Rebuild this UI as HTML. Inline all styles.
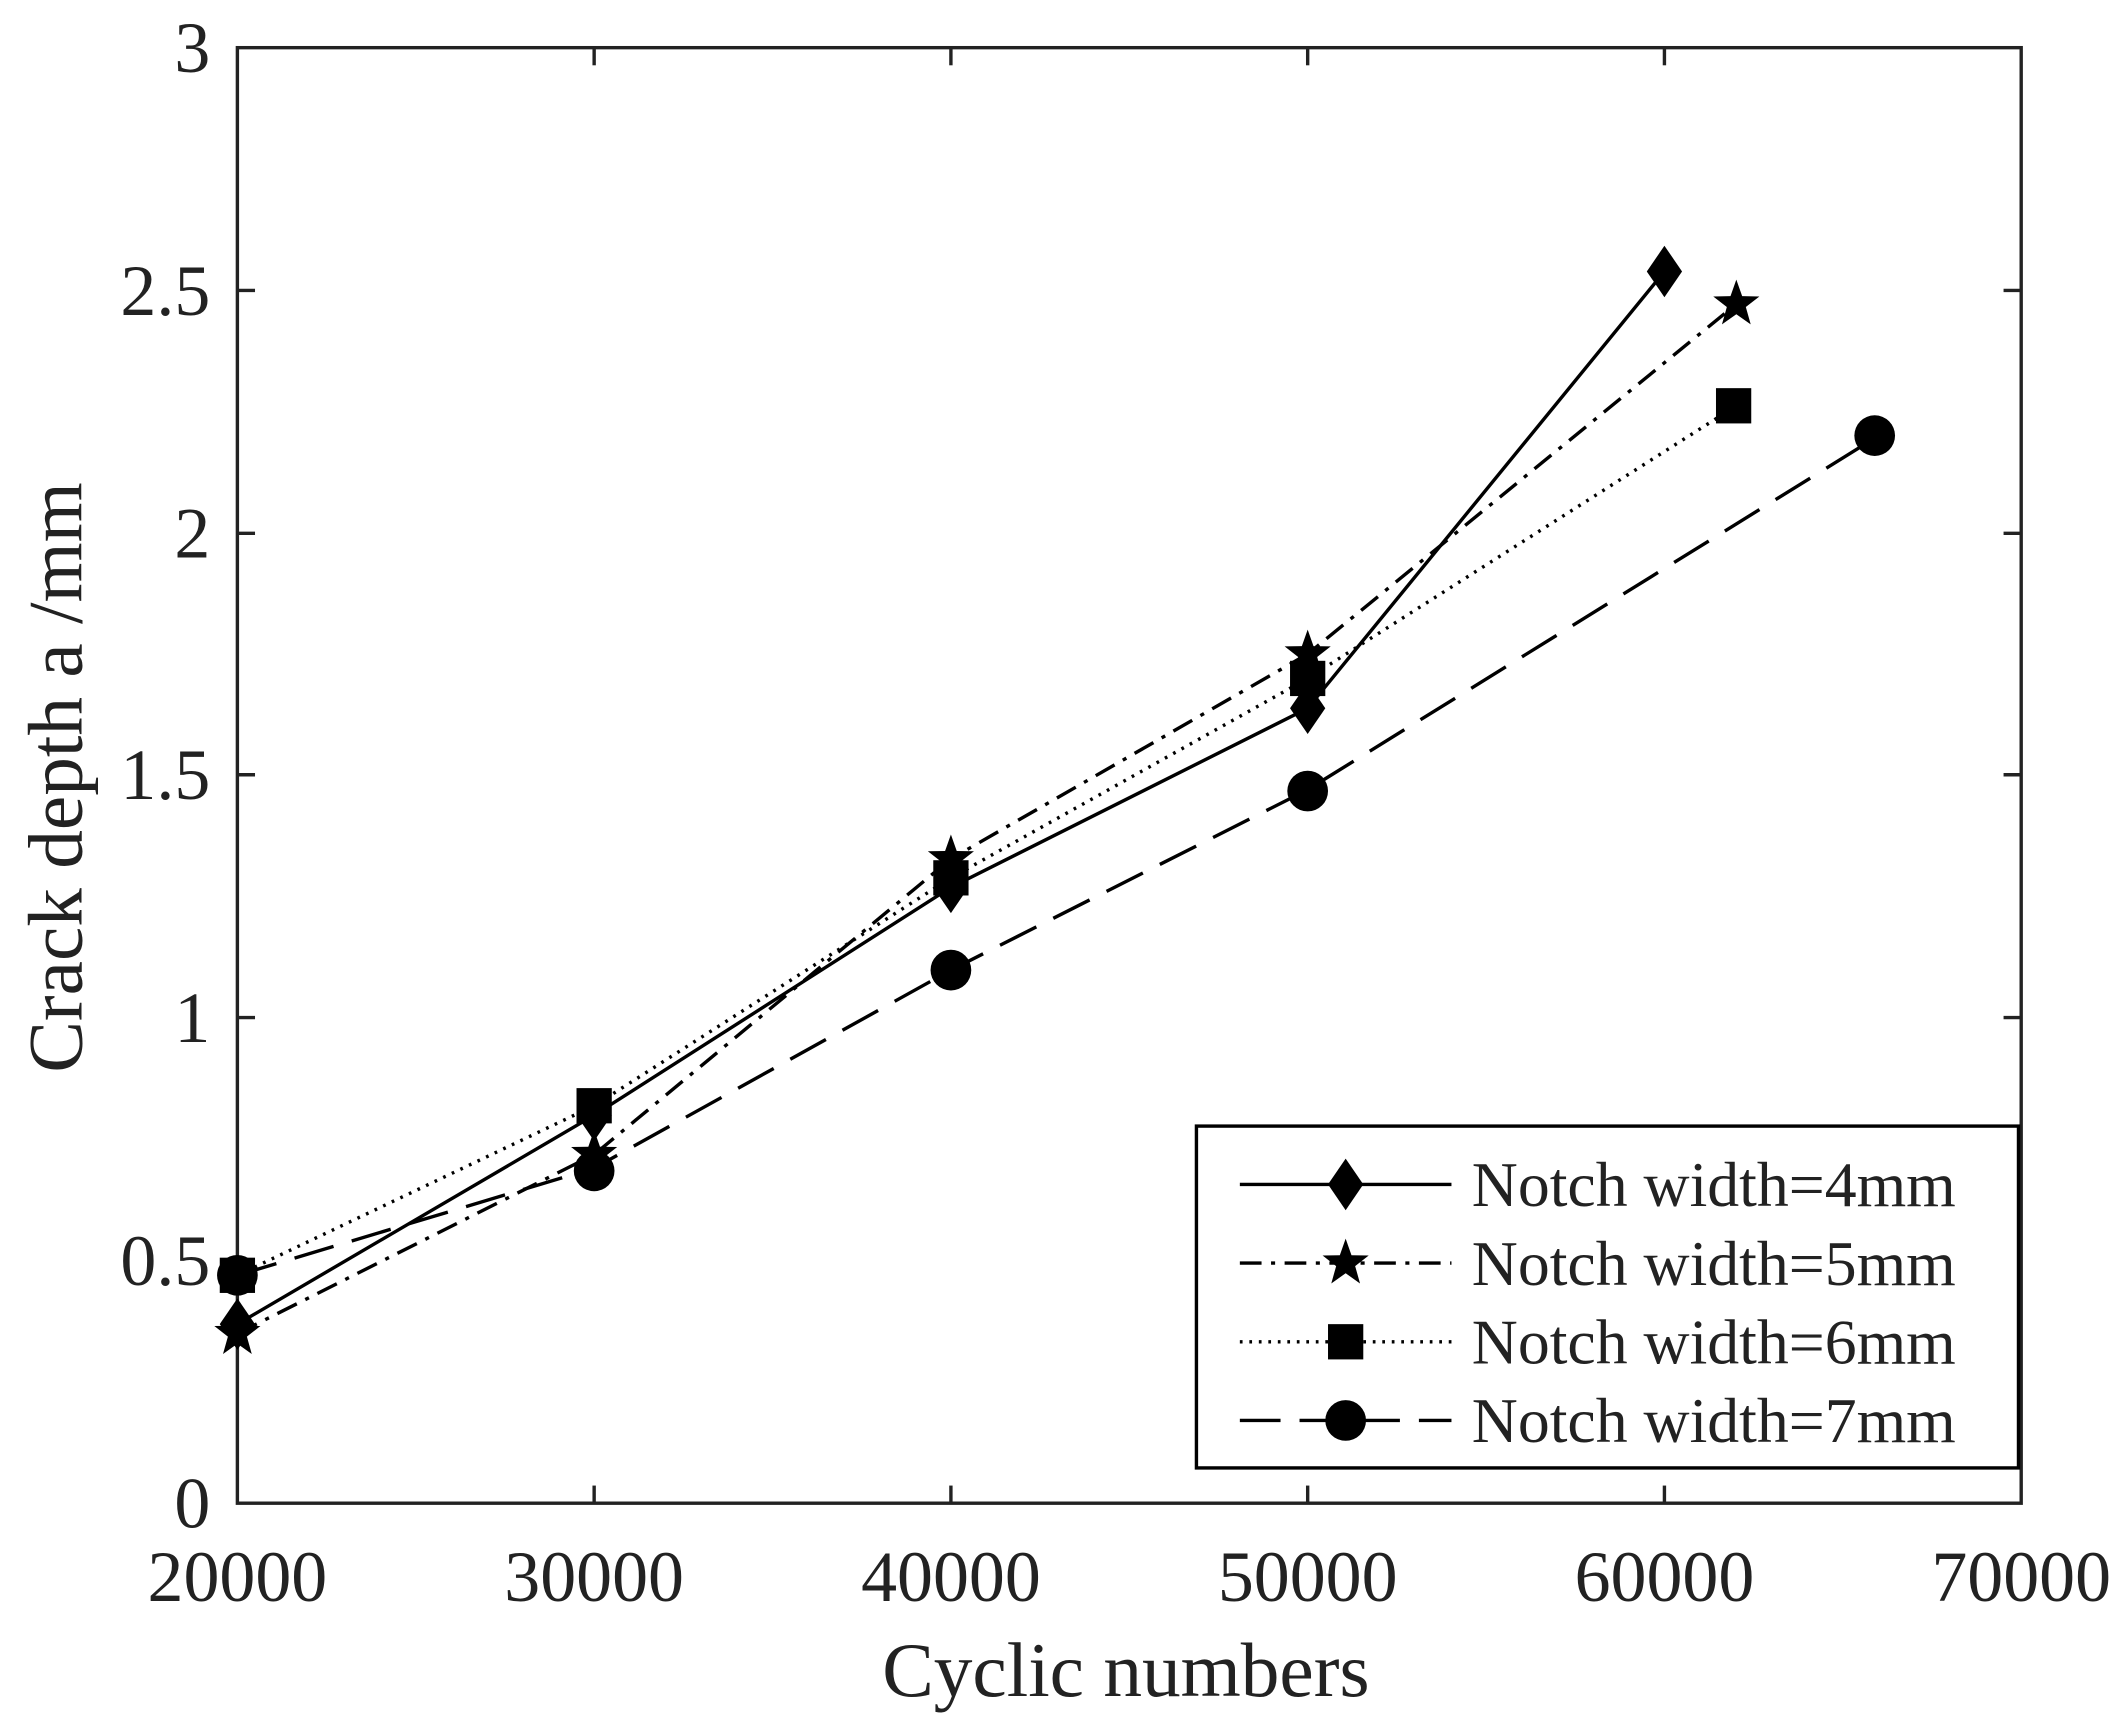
<!DOCTYPE html>
<html><head><meta charset="utf-8"><style>html,body{margin:0;padding:0;background:#fff}svg{display:block}</style></head>
<body>
<svg width="2127" height="1734" viewBox="0 0 1568 1278" xmlns="http://www.w3.org/2000/svg" font-family="'Liberation Serif', serif" fill="#222">
<defs>
<path id="dia" d="M0,-19 L13,0 L0,19 L-13,0 Z" fill="#000"/>
<path id="star" d="M0,-18 L4.3,-5.8 L17,-5.6 L7,2.2 L10.6,15 L0,7.5 L-10.6,15 L-7,2.2 L-17,-5.6 L-4.3,-5.8 Z" fill="#000"/>
<rect id="sq" x="-13" y="-13" width="26" height="26" fill="#000"/>
<circle id="cir" r="15" fill="#000"/>
</defs>
<g stroke="#222" stroke-width="2.5" fill="none">
<rect x="175" y="35" width="1315" height="1073"/>
</g>
<g stroke="#222" stroke-width="2.5">
<line x1="438" y1="1108" x2="438" y2="1095"/><line x1="701" y1="1108" x2="701" y2="1095"/><line x1="964" y1="1108" x2="964" y2="1095"/><line x1="1227" y1="1108" x2="1227" y2="1095"/>
<line x1="438" y1="35" x2="438" y2="48"/><line x1="701" y1="35" x2="701" y2="48"/><line x1="964" y1="35" x2="964" y2="48"/><line x1="1227" y1="35" x2="1227" y2="48"/>
<line x1="175" y1="929" x2="188" y2="929"/><line x1="175" y1="750" x2="188" y2="750"/><line x1="175" y1="571" x2="188" y2="571"/><line x1="175" y1="393" x2="188" y2="393"/><line x1="175" y1="214" x2="188" y2="214"/>
<line x1="1490" y1="929" x2="1477" y2="929"/><line x1="1490" y1="750" x2="1477" y2="750"/><line x1="1490" y1="571" x2="1477" y2="571"/><line x1="1490" y1="393" x2="1477" y2="393"/><line x1="1490" y1="214" x2="1477" y2="214"/>
</g>
<g font-size="53" text-anchor="middle">
<text x="175" y="1180">20000</text><text x="438" y="1180">30000</text><text x="701" y="1180">40000</text><text x="964" y="1180">50000</text><text x="1227" y="1180">60000</text><text x="1490" y="1180">70000</text>
</g>
<g font-size="53" text-anchor="end">
<text x="155" y="1126">0</text><text x="155" y="947">0.5</text><text x="155" y="768">1</text><text x="155" y="589">1.5</text><text x="155" y="411">2</text><text x="155" y="232">2.5</text><text x="155" y="53">3</text>
</g>
<text x="830" y="1250" font-size="57" text-anchor="middle">Cyclic numbers</text>
<text transform="translate(60,573) rotate(-90)" font-size="57" text-anchor="middle">Crack depth a /mm</text>
<g fill="none" stroke="#000" stroke-width="2.5">
<polyline points="175,976 438,822 701,654 964,522 1227,200"/>
<polyline stroke-dasharray="16,7,3,7" points="175,983 438,851 701,633 964,482 1280,224"/>
<polyline stroke-dasharray="2,5" points="175,940 438,815 701,647 964,500 1280,299"/>
<polyline stroke-dasharray="30,14" points="175,940 438,861 701,715 964,582 1385,321"/>
</g>
<use href="#dia" x="175" y="976"/><use href="#dia" x="438" y="822"/><use href="#dia" x="701" y="654"/><use href="#dia" x="964" y="522"/><use href="#dia" x="1227" y="200"/>
<use href="#star" x="175" y="983"/><use href="#star" x="438" y="851"/><use href="#star" x="701" y="633"/><use href="#star" x="964" y="482"/><use href="#star" x="1280" y="224"/>
<use href="#sq" x="175" y="940"/><use href="#sq" x="438" y="815"/><use href="#sq" x="701" y="647"/><use href="#sq" x="964" y="500"/><use href="#sq" x="1278" y="299"/>
<use href="#cir" x="175" y="940"/><use href="#cir" x="438" y="863"/><use href="#cir" x="701" y="715"/><use href="#cir" x="964" y="583"/><use href="#cir" x="1382" y="321"/>
<rect x="882" y="830" width="606" height="252" fill="#fff" stroke="#000" stroke-width="2.5"/>
<g fill="none" stroke="#000" stroke-width="2.5">
<line x1="914" y1="873" x2="1070" y2="873"/>
<line x1="914" y1="931" x2="1070" y2="931" stroke-dasharray="16,7,3,7"/>
<line x1="914" y1="989" x2="1070" y2="989" stroke-dasharray="2,5"/>
<line x1="914" y1="1047" x2="1070" y2="1047" stroke-dasharray="30,14"/>
</g>
<use href="#dia" x="992" y="873"/><use href="#star" x="992" y="931"/><use href="#sq" x="992" y="989"/><use href="#cir" x="992" y="1047"/>
<g font-size="47">
<text x="1085" y="889">Notch width=4mm</text><text x="1085" y="947">Notch width=5mm</text><text x="1085" y="1005">Notch width=6mm</text><text x="1085" y="1063">Notch width=7mm</text>
</g>
</svg>
</body></html>
